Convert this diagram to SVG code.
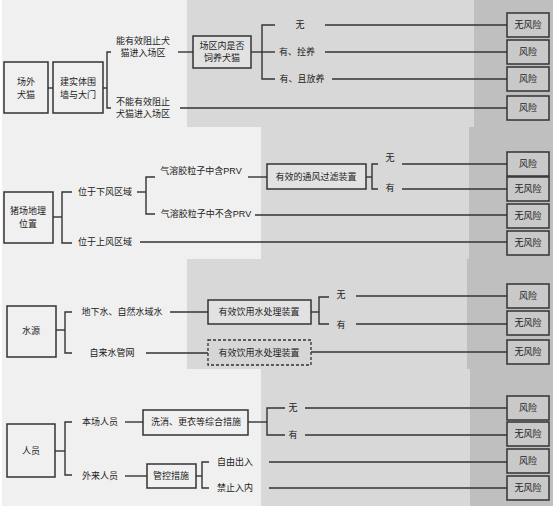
<svg xmlns="http://www.w3.org/2000/svg" width="555" height="508" viewBox="0 0 555 508">
<style>
.t{font-family:"Liberation Sans","Noto Sans CJK SC",sans-serif;font-size:9px;fill:#222;text-anchor:middle;dominant-baseline:central}
.b{fill:#f0f0f0;stroke:#333;stroke-width:1.5}
.bm{fill:#e2e2e2;stroke:#333;stroke-width:1.5}
.bd{fill:#d6d6d6;stroke:#333;stroke-width:1.3;stroke-dasharray:3,2}
.r{fill:#c9c9c9;stroke:#333;stroke-width:1.5}
.c path{fill:none;stroke:#333;stroke-width:1.4}
</style>
<rect x="0" y="0" width="555" height="508" fill="#ffffff"/>
<g id="background">
<rect x="2" y="0" width="551" height="506" fill="#f0f0f0"/>
<rect x="187" y="0" width="287" height="127" fill="#d8d8d8"/>
<rect x="474" y="0" width="79" height="127" fill="#bfbfbf"/>
<rect x="261" y="127" width="208" height="132" fill="#d8d8d8"/>
<rect x="469" y="127" width="84" height="132" fill="#bfbfbf"/>
<rect x="187" y="259" width="280" height="110" fill="#d8d8d8"/>
<rect x="467" y="259" width="86" height="110" fill="#bfbfbf"/>
<rect x="261" y="369" width="209" height="137" fill="#d8d8d8"/>
<rect x="470" y="369" width="83" height="137" fill="#bfbfbf"/>
</g>
<g id="connectors" class="c">
<path d="M48,88H53"/>
<path d="M103,88H107"/>
<path d="M111,52H107V108H111"/>
<path d="M178,52H193"/>
<path d="M251,52H275"/>
<path d="M275,25H262V79H275"/>
<path d="M325,25H507"/>
<path d="M325,52H507"/>
<path d="M332,79H507"/>
<path d="M180,108H507"/>
<path d="M53,217H62"/>
<path d="M72,192H62V243H72"/>
<path d="M137,192H146"/>
<path d="M155,177H146V214H155"/>
<path d="M248,177H267"/>
<path d="M366,177H372"/>
<path d="M378,164H372V189H378"/>
<path d="M402,164H507"/>
<path d="M402,189H507"/>
<path d="M255,215H507"/>
<path d="M140,242H507"/>
<path d="M56,330H65"/>
<path d="M72,312H65V353H72"/>
<path d="M170,312H208"/>
<path d="M146,353H208"/>
<path d="M311,312H319"/>
<path d="M329,297H319V324H329"/>
<path d="M356,296H507"/>
<path d="M356,324H507"/>
<path d="M311,352H507"/>
<path d="M55,451H65"/>
<path d="M72,422H65V475H72"/>
<path d="M125,422H143"/>
<path d="M248,422H267"/>
<path d="M285,408H267V435H285"/>
<path d="M305,408H507"/>
<path d="M305,435H507"/>
<path d="M125,476H147"/>
<path d="M196,476H202"/>
<path d="M209,462H202V488H209"/>
<path d="M269,462H507"/>
<path d="M269,488H507"/>
</g>
<g id="n_outcat"><rect class="b" x="4" y="62" width="44" height="51"/><text class="t" x="26" y="82">场外</text><text class="t" x="26" y="95">犬猫</text></g>
<g id="n_wall"><rect class="b" x="53" y="62" width="50" height="51"/><text class="t" x="78" y="82">建实体围</text><text class="t" x="78" y="95">墙与大门</text></g>
<g id="l_block"><text class="t" x="143" y="41">能有效阻止犬</text><text class="t" x="143" y="53">猫进入场区</text></g>
<g id="l_noblock"><text class="t" x="143" y="102">不能有效阻止</text><text class="t" x="143" y="114">犬猫进入场区</text></g>
<g id="n_raise"><rect class="bm" x="193" y="36" width="58" height="32"/><text class="t" x="222" y="46">场区内是否</text><text class="t" x="222" y="58">饲养犬猫</text></g>
<g id="l_none1"><text class="t" x="300" y="25">无</text></g>
<g id="l_tied"><text class="t" x="297" y="52">有、拴养</text></g>
<g id="l_free"><text class="t" x="302" y="79">有、且放养</text></g>
<g id="r1"><rect class="r" x="507" y="13" width="42" height="24"/><text class="t" x="528" y="25">无风险</text></g>
<g id="r2"><rect class="r" x="507" y="40" width="42" height="24"/><text class="t" x="528" y="52">风险</text></g>
<g id="r3"><rect class="r" x="507" y="67" width="42" height="24"/><text class="t" x="528" y="79">风险</text></g>
<g id="r4"><rect class="r" x="507" y="96" width="42" height="24"/><text class="t" x="528" y="108">风险</text></g>
<g id="n_loc"><rect class="b" x="4" y="192" width="49" height="51"/><text class="t" x="28" y="211">猪场地理</text><text class="t" x="28" y="224">位置</text></g>
<g id="l_down"><text class="t" x="105" y="192">位于下风区域</text></g>
<g id="l_up"><text class="t" x="105" y="242">位于上风区域</text></g>
<g id="l_prv"><text class="t" x="201" y="171">气溶胶粒子中含PRV</text></g>
<g id="l_noprv"><text class="t" x="206" y="214">气溶胶粒子中不含PRV</text></g>
<g id="n_filter"><rect class="bm" x="267" y="164" width="99" height="25"/><text class="t" x="316" y="177">有效的通风过滤装置</text></g>
<g id="l_none2"><text class="t" x="390" y="158">无</text></g>
<g id="l_has2"><text class="t" x="390" y="188">有</text></g>
<g id="r5"><rect class="r" x="507" y="152" width="42" height="24"/><text class="t" x="528" y="164">风险</text></g>
<g id="r6"><rect class="r" x="507" y="177" width="42" height="24"/><text class="t" x="528" y="189">无风险</text></g>
<g id="r7"><rect class="r" x="507" y="204" width="42" height="24"/><text class="t" x="528" y="216">无风险</text></g>
<g id="r8"><rect class="r" x="507" y="231" width="42" height="24"/><text class="t" x="528" y="243">无风险</text></g>
<g id="n_water"><rect class="b" x="7" y="306" width="49" height="51"/><text class="t" x="31" y="331">水源</text></g>
<g id="l_ground"><text class="t" x="122" y="312">地下水、自然水域水</text></g>
<g id="l_tap"><text class="t" x="112" y="353">自来水管网</text></g>
<g id="n_treat"><rect class="bm" x="208" y="300" width="103" height="24"/><text class="t" x="259" y="312">有效饮用水处理装置</text></g>
<g id="n_treat2"><rect class="bd" x="208" y="340" width="103" height="25"/><text class="t" x="259" y="353">有效饮用水处理装置</text></g>
<g id="l_none3"><text class="t" x="341" y="295">无</text></g>
<g id="l_has3"><text class="t" x="341" y="325">有</text></g>
<g id="r9"><rect class="r" x="507" y="284" width="42" height="24"/><text class="t" x="528" y="296">风险</text></g>
<g id="r10"><rect class="r" x="507" y="311" width="42" height="24"/><text class="t" x="528" y="323">无风险</text></g>
<g id="r11"><rect class="r" x="507" y="340" width="42" height="24"/><text class="t" x="528" y="352">无风险</text></g>
<g id="n_staff"><rect class="b" x="7" y="424" width="48" height="53"/><text class="t" x="31" y="451">人员</text></g>
<g id="l_local"><text class="t" x="100" y="422">本场人员</text></g>
<g id="l_outside"><text class="t" x="100" y="476">外来人员</text></g>
<g id="n_wash"><rect class="b" x="143" y="410" width="105" height="25"/><text class="t" x="196" y="422">洗消、更衣等综合措施</text></g>
<g id="n_ctrl"><rect class="b" x="147" y="464" width="49" height="24" stroke-width="2"/><text class="t" x="171" y="476">管控措施</text></g>
<g id="l_none4"><text class="t" x="293" y="408">无</text></g>
<g id="l_has4"><text class="t" x="293" y="435">有</text></g>
<g id="l_freein"><text class="t" x="235" y="462">自由出入</text></g>
<g id="l_ban"><text class="t" x="235" y="488">禁止入内</text></g>
<g id="r12"><rect class="r" x="507" y="396" width="42" height="24"/><text class="t" x="528" y="408">风险</text></g>
<g id="r13"><rect class="r" x="507" y="422" width="42" height="24"/><text class="t" x="528" y="434">无风险</text></g>
<g id="r14"><rect class="r" x="507" y="449" width="42" height="24"/><text class="t" x="528" y="461">风险</text></g>
<g id="r15"><rect class="r" x="507" y="476" width="42" height="24"/><text class="t" x="528" y="488">无风险</text></g>
</svg>
